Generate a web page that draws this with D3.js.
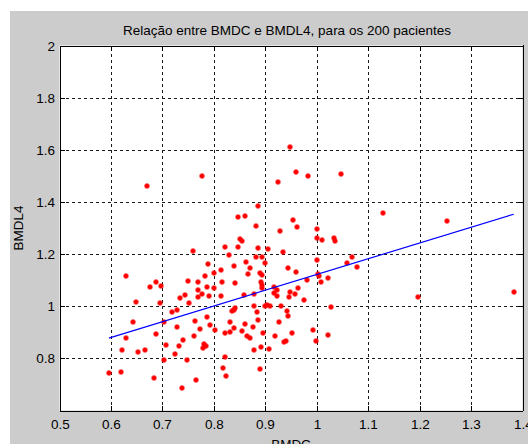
<!DOCTYPE html>
<html>
<head>
<meta charset="utf-8">
<script src="https://cdn.jsdelivr.net/npm/d3@7/dist/d3.min.js"></script>
<style>
  html, body { margin: 0; padding: 0; background: #ffffff; }
  svg { display: block; }
  text { font-family: "Liberation Sans", Arial, sans-serif; fill: #000; }
</style>
</head>
<body>
<svg id="chart" width="528" height="444"></svg>
<script>
// BMDC (x) and BMDL4 (y) for each patient
const bmdc = [
  0.949, 0.959, 0.983, 0.924, 1.048, 0.777, 1.128, 0.885, 0.847, 0.860,
  0.954, 0.961, 0.881, 0.928, 1.001, 1.000, 1.011, 1.034, 1.035, 0.850,
  0.854, 0.822, 0.847, 0.885, 0.905, 0.935, 0.829, 0.881, 0.894, 1.000,
  0.789, 0.863, 0.900, 0.839, 1.058, 1.069, 1.079, 0.944, 0.871, 0.800,
  0.783, 0.813, 0.867, 0.889, 0.893, 0.959, 1.002, 1.004, 1.021, 1.008,
  0.982, 0.816, 0.842, 0.891, 0.894, 0.787, 0.800, 0.894, 0.917, 0.964,
  0.949, 0.957, 0.923, 0.917, 0.858, 0.777, 0.790, 0.814, 0.878, 0.975,
  0.946, 0.923, 0.904, 0.910, 0.900, 0.930, 0.878, 0.842, 0.839, 0.835,
  0.943, 1.027, 0.884, 0.945, 0.787, 0.885, 0.926, 0.832, 0.860, 0.793,
  0.774, 0.802, 0.839, 0.854, 0.876, 0.822, 0.831, 0.896, 0.918, 0.952,
  0.993, 1.022, 0.865, 0.870, 0.998, 0.941, 0.936, 0.781, 0.785, 0.779,
  0.879, 0.891, 0.907, 0.822, 0.818, 0.889,
  0.630, 0.676, 0.688, 0.698, 0.649, 0.696, 0.642, 0.630, 0.688, 0.622,
  0.652, 0.667, 0.596, 0.620, 0.683, 0.704, 0.704, 0.707, 0.719, 0.728,
  0.735, 0.743, 0.750, 0.759, 0.728, 0.733, 0.724, 0.741, 0.748, 0.739,
  0.766, 0.762, 0.764, 0.752, 0.770, 0.770, 0.769, 0.824,
  1.254, 1.196, 1.383, 0.670
];
const bmdl4 = [
  1.611, 1.515, 1.499, 1.476, 1.509, 1.500, 1.356, 1.385, 1.341, 1.347,
  1.329, 1.304, 1.308, 1.288, 1.295, 1.260, 1.254, 1.260, 1.249, 1.258,
  1.251, 1.226, 1.226, 1.222, 1.218, 1.209, 1.197, 1.190, 1.190, 1.178,
  1.161, 1.169, 1.165, 1.156, 1.165, 1.187, 1.152, 1.148, 1.146, 1.127,
  1.114, 1.139, 1.124, 1.127, 1.120, 1.130, 1.124, 1.114, 1.108, 1.094,
  1.101, 1.094, 1.088, 1.094, 1.082, 1.075, 1.069, 1.069, 1.073, 1.069,
  1.056, 1.047, 1.063, 1.050, 1.044, 1.047, 1.041, 1.041, 1.047, 1.024,
  1.037, 1.041, 1.005, 1.002, 0.999, 0.999, 0.999, 0.993, 0.986, 0.982,
  0.980, 0.997, 0.976, 0.964, 0.957, 0.948, 0.938, 0.938, 0.933, 0.929,
  0.912, 0.910, 0.916, 0.906, 0.920, 0.897, 0.901, 0.897, 0.887, 0.899,
  0.907, 0.891, 0.884, 0.878, 0.868, 0.868, 0.861, 0.856, 0.846, 0.840,
  0.833, 0.842, 0.837, 0.805, 0.763, 0.761,
  1.116, 1.072, 1.092, 1.079, 1.016, 1.012, 0.941, 0.878, 0.894, 0.831,
  0.826, 0.833, 0.744, 0.748, 0.725, 0.941, 0.795, 0.852, 0.977, 0.984,
  1.033, 1.044, 1.098, 1.212, 0.922, 0.846, 0.818, 0.869, 0.792, 0.687,
  0.718, 0.887, 0.944, 1.012, 1.092, 1.063, 1.035, 0.731,
  1.328, 1.037, 1.054, 1.460
];

// Least-squares fit BMDL4 = slope * BMDC + intercept
const fitSlope = 0.6037;
const fitIntercept = 0.518;

const xTicks = [0.5, 0.6, 0.7, 0.8, 0.9, 1.0, 1.1, 1.2, 1.3, 1.4];
const yTicks = [0.8, 1.0, 1.2, 1.4, 1.6, 1.8, 2.0];
const xGrid = [0.6, 0.7, 0.8, 0.9, 1.0, 1.1, 1.2, 1.3];
const yGrid = [0.8, 1.0, 1.2, 1.4, 1.6, 1.8];

const titleText = "Relação entre BMDC e BMDL4, para os 200 pacientes";
const xLabel = "BMDC";
const yLabel = "BMDL4";

(function draw() {
  const svg = d3.select("#chart");
  const W = 528, H = 444;
  const pL = 59.5, pR = 522.5, pT = 45.5, pB = 410.5;
  const innerW = pR - pL, innerH = pB - pT;

  const x = d3.scaleLinear().domain([0.5, 1.4]).range([pL, pR]);
  const y = d3.scaleLinear().domain([0.6, 2.0]).range([pB, pT]);

  // figure background
  svg.append("rect").attr("x", 10).attr("y", 11).attr("width", W - 10).attr("height", H - 11)
    .attr("fill", "#cccccc");
  // axes background
  svg.append("rect").attr("x", pL).attr("y", pT).attr("width", innerW).attr("height", innerH)
    .attr("fill", "#ffffff");

  const snap = v => Math.round(v - 0.5) + 0.5;
  const parseT = t => { const m = /translate\(([^,]+),([^)]+)\)/.exec(t); return [+m[1], +m[2]]; };

  // dotted grid
  const gridX = svg.append("g").attr("transform", `translate(0,${pB})`)
    .call(d3.axisBottom(x).tickValues(xGrid).tickSize(-innerH).tickFormat(""));
  const gridY = svg.append("g").attr("transform", `translate(${pL},0)`)
    .call(d3.axisLeft(y).tickValues(yGrid).tickSize(-innerW).tickFormat(""));
  [gridX, gridY].forEach(g => {
    g.select(".domain").remove();
    g.selectAll(".tick").attr("transform", function () {
      const [tx, ty] = parseT(d3.select(this).attr("transform"));
      return g === gridX ? `translate(${snap(tx)},0)` : `translate(0,${snap(ty)})`;
    });
    g.selectAll("line").attr("stroke", "#1a1a1a").attr("stroke-width", 1)
      .attr("stroke-dasharray", "3,3").attr("shape-rendering", "crispEdges");
  });

  // scatter markers
  const marker = "M-1.5,-2.5h3v1h1v3h-1v1h-3v-1h-1v-3h1z";
  svg.append("g").selectAll("path").data(bmdc.map((v, i) => [v, bmdl4[i]])).join("path")
    .attr("d", marker)
    .attr("transform", d => `translate(${Math.round(x(d[0]))},${Math.round(y(d[1]))})`)
    .attr("fill", "#ff0000");

  // fitted line across the observed BMDC range
  const xr = d3.extent(bmdc);
  svg.append("line")
    .attr("x1", x(xr[0])).attr("y1", y(fitSlope * xr[0] + fitIntercept))
    .attr("x2", x(xr[1])).attr("y2", y(fitSlope * xr[1] + fitIntercept))
    .attr("stroke", "#0000ff").attr("stroke-width", 1.2);

  // axes with inward ticks on all four sides
  function styleAxis(g) {
    g.select(".domain").attr("stroke", "#000").attr("shape-rendering", "crispEdges");
    g.selectAll(".tick line").attr("stroke", "#000").attr("shape-rendering", "crispEdges");
    g.selectAll(".tick").attr("transform", function () {
      const [tx, ty] = parseT(d3.select(this).attr("transform"));
      return `translate(${snap(tx)},${snap(ty)})`;
    });
  }
  const fmt = d => d3.format("~g")(d);
  const axB = svg.append("g").attr("transform", `translate(0,${pB})`)
    .call(d3.axisBottom(x).tickValues(xTicks).tickSizeInner(-5).tickSizeOuter(0).tickFormat(fmt));
  styleAxis(axB);
  axB.selectAll("text").attr("y", 8).attr("dy", "0.71em").attr("font-size", "13.5px")
    .attr("font-family", "'Liberation Sans', Arial, sans-serif").attr("fill", "#000");
  const axT = svg.append("g").attr("transform", `translate(0,${pT})`)
    .call(d3.axisTop(x).tickValues(xTicks).tickSizeInner(-5).tickSizeOuter(0).tickFormat(""));
  styleAxis(axT);
  const axL = svg.append("g").attr("transform", `translate(${pL},0)`)
    .call(d3.axisLeft(y).tickValues(yTicks).tickSizeInner(-5).tickSizeOuter(0).tickFormat(fmt));
  styleAxis(axL);
  axL.selectAll("text").attr("x", -5).attr("dy", "0.36em").attr("font-size", "13.5px")
    .attr("font-family", "'Liberation Sans', Arial, sans-serif").attr("fill", "#000");
  const axR = svg.append("g").attr("transform", `translate(${pR},0)`)
    .call(d3.axisRight(y).tickValues(yTicks).tickSizeInner(-5).tickSizeOuter(0).tickFormat(""));
  styleAxis(axR);
  // heavier right edge
  svg.append("line").attr("x1", pR + 1).attr("x2", pR + 1).attr("y1", pT - 0.5).attr("y2", pB + 0.5)
    .attr("stroke", "#000").attr("stroke-width", 1);

  // title and axis labels
  svg.append("text").attr("x", (pL + pR) / 2 - 4).attr("y", 34.5)
    .attr("text-anchor", "middle").attr("font-size", "13.5px").text(titleText);
  svg.append("text").attr("x", (pL + pR) / 2).attr("y", 449)
    .attr("text-anchor", "middle").attr("font-size", "13.5px").text(xLabel);
  svg.append("text").attr("transform", `translate(23,${(pT + pB) / 2}) rotate(-90)`)
    .attr("text-anchor", "middle").attr("font-size", "13.5px").text(yLabel);
})();
</script>
</body>
</html>
